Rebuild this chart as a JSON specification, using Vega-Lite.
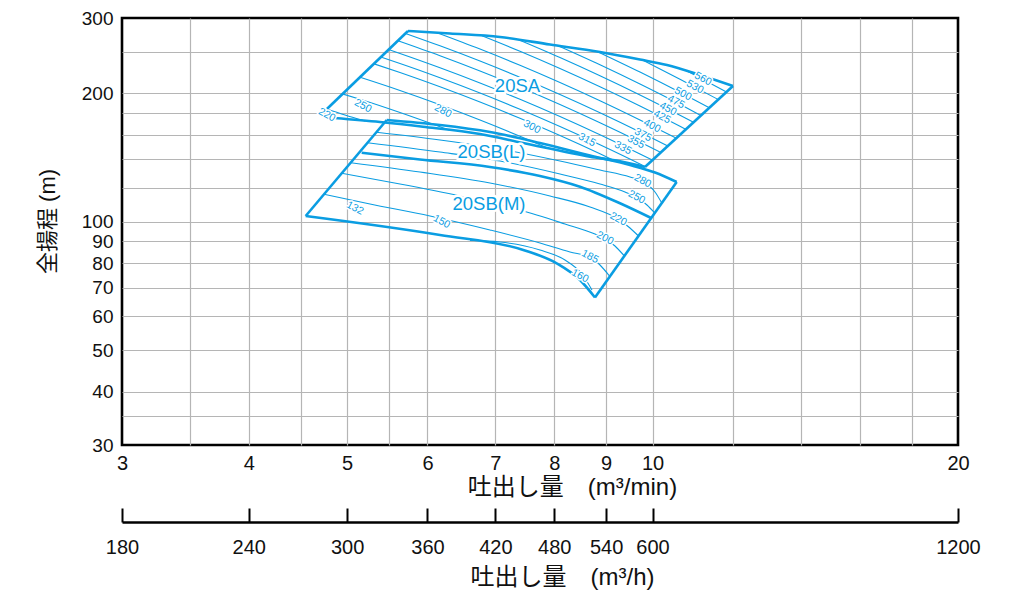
{
  "$schema": "https://vega.github.io/schema/vega-lite/v6.json",
  "width": 836,
  "height": 427,
  "autosize": {"type": "none"},
  "padding": {"left": 122, "top": 18, "right": 59, "bottom": 149},
  "background": "white",
  "config": {
    "view": {"stroke": "#000000", "strokeWidth": 2.6},
    "font": "Liberation Sans, Arial, Noto Sans CJK JP, sans-serif",
    "axis": {
      "labelFont": "Liberation Sans, Arial, Noto Sans CJK JP, sans-serif",
      "titleFont": "Liberation Sans, Noto Sans CJK JP, sans-serif",
      "labelColor": "#111111",
      "titleColor": "#111111",
      "titleFontWeight": "normal"
    }
  },
  "datasets": {
    "edges": [
      {"id": "SA-left", "q": 4.7763, "h": 183.66}, {"id": "SA-left", "q": 5.7408, "h": 279.69},
      {"id": "SA-top", "q": 5.7408, "h": 279.69}, {"id": "SA-top", "q": 6.3149, "h": 275.94}, {"id": "SA-top", "q": 7.0736, "h": 270.78}, {"id": "SA-top", "q": 7.9235, "h": 260.05}, {"id": "SA-top", "q": 8.8755, "h": 249.74}, {"id": "SA-top", "q": 9.7188, "h": 239.85}, {"id": "SA-top", "q": 10.3328, "h": 232.84}, {"id": "SA-top", "q": 11.1363, "h": 220.61}, {"id": "SA-top", "q": 12.0022, "h": 207.91},
      {"id": "SA-right", "q": 12.0022, "h": 207.91}, {"id": "SA-right", "q": 9.8297, "h": 134.33},
      {"id": "SA-bottom", "q": 4.8534, "h": 174.96}, {"id": "SA-bottom", "q": 5.3874, "h": 171.22}, {"id": "SA-bottom", "q": 5.9396, "h": 166.93}, {"id": "SA-bottom", "q": 6.7598, "h": 160.49}, {"id": "SA-bottom", "q": 7.4526, "h": 152.89}, {"id": "SA-bottom", "q": 8.6763, "h": 142.0}, {"id": "SA-bottom", "q": 9.2875, "h": 138.53}, {"id": "SA-bottom", "q": 9.8297, "h": 134.33},
      {"id": "SB-left", "q": 4.5515, "h": 103.13}, {"id": "SB-left", "q": 5.47, "h": 173.08},
      {"id": "SB-top", "q": 5.47, "h": 173.08}, {"id": "SB-top", "q": 6.1732, "h": 168.47}, {"id": "SB-top", "q": 6.9149, "h": 162.23}, {"id": "SB-top", "q": 7.7457, "h": 152.89}, {"id": "SB-top", "q": 8.6763, "h": 142.92}, {"id": "SB-top", "q": 9.5007, "h": 135.79}, {"id": "SB-top", "q": 10.0553, "h": 130.4}, {"id": "SB-top", "q": 10.5628, "h": 123.89},
      {"id": "SB-right", "q": 8.7753, "h": 66.46}, {"id": "SB-right", "q": 10.5628, "h": 123.89},
      {"id": "SB-bottom", "q": 4.5515, "h": 103.13}, {"id": "SB-bottom", "q": 6.1732, "h": 93.09}, {"id": "SB-bottom", "q": 7.4577, "h": 85.86}, {"id": "SB-bottom", "q": 8.0449, "h": 79.92}, {"id": "SB-bottom", "q": 8.4817, "h": 73.03}, {"id": "SB-bottom", "q": 8.7753, "h": 66.46},
      {"id": "SB-mid", "q": 5.1683, "h": 145.1}, {"id": "SB-mid", "q": 5.8993, "h": 139.88}, {"id": "SB-mid", "q": 6.9149, "h": 134.33}, {"id": "SB-mid", "q": 7.7457, "h": 127.97}, {"id": "SB-mid", "q": 8.4817, "h": 120.79}, {"id": "SB-mid", "q": 9.2875, "h": 110.45}, {"id": "SB-mid", "q": 9.9803, "h": 101.87}
    ],
    "curves": [
      {"id": "SA220", "q": 4.7763, "h": 183.66}, {"id": "SA220", "q": 4.9761, "h": 177.81}, {"id": "SA220", "q": 5.2071, "h": 172.15},
      {"id": "SA250", "q": 4.9491, "h": 199.18}, {"id": "SA250", "q": 5.1484, "h": 193.54}, {"id": "SA250", "q": 5.6376, "h": 180.19}, {"id": "SA250", "q": 6.1732, "h": 166.86}, {"id": "SA250", "q": 6.3006, "h": 163.9},
      {"id": "SA280", "q": 5.1484, "h": 217.89}, {"id": "SA280", "q": 5.6376, "h": 202.89}, {"id": "SA280", "q": 6.1732, "h": 187.88}, {"id": "SA280", "q": 6.7598, "h": 173.05}, {"id": "SA280", "q": 7.402, "h": 158.53}, {"id": "SA280", "q": 7.8876, "h": 148.63},
      {"id": "SA300", "q": 5.3134, "h": 234.35}, {"id": "SA300", "q": 5.6376, "h": 223.59}, {"id": "SA300", "q": 6.1732, "h": 207.03}, {"id": "SA300", "q": 6.7598, "h": 190.69}, {"id": "SA300", "q": 7.402, "h": 174.69}, {"id": "SA300", "q": 8.1053, "h": 159.17}, {"id": "SA300", "q": 8.8755, "h": 144.26}, {"id": "SA300", "q": 9.1619, "h": 139.2},
      {"id": "SA315", "q": 5.3972, "h": 242.97}, {"id": "SA315", "q": 5.6376, "h": 234.69}, {"id": "SA315", "q": 6.1732, "h": 217.33}, {"id": "SA315", "q": 6.7598, "h": 200.18}, {"id": "SA315", "q": 7.402, "h": 183.38}, {"id": "SA315", "q": 8.1053, "h": 167.09}, {"id": "SA315", "q": 8.8755, "h": 151.43}, {"id": "SA315", "q": 9.7188, "h": 136.5}, {"id": "SA315", "q": 9.8408, "h": 134.48},
      {"id": "SA335", "q": 5.4936, "h": 253.0}, {"id": "SA335", "q": 5.6376, "h": 247.7}, {"id": "SA335", "q": 6.1732, "h": 229.34}, {"id": "SA335", "q": 6.7598, "h": 211.26}, {"id": "SA335", "q": 7.402, "h": 193.54}, {"id": "SA335", "q": 8.1053, "h": 176.35}, {"id": "SA335", "q": 8.8755, "h": 159.82}, {"id": "SA335", "q": 9.7188, "h": 144.06}, {"id": "SA335", "q": 9.9938, "h": 139.42},
      {"id": "SA355", "q": 5.6108, "h": 265.29}, {"id": "SA355", "q": 6.1732, "h": 244.71}, {"id": "SA355", "q": 6.7598, "h": 225.38}, {"id": "SA355", "q": 7.402, "h": 206.48}, {"id": "SA355", "q": 8.1053, "h": 188.14}, {"id": "SA355", "q": 8.8755, "h": 170.5}, {"id": "SA355", "q": 9.7188, "h": 153.69}, {"id": "SA355", "q": 10.1908, "h": 145.26},
      {"id": "SA375", "q": 5.7084, "h": 276.09}, {"id": "SA375", "q": 6.1732, "h": 258.26}, {"id": "SA375", "q": 6.7598, "h": 237.88}, {"id": "SA375", "q": 7.402, "h": 217.91}, {"id": "SA375", "q": 8.1053, "h": 198.56}, {"id": "SA375", "q": 8.8755, "h": 179.95}, {"id": "SA375", "q": 9.7188, "h": 162.2}, {"id": "SA375", "q": 10.3516, "h": 150.36},
      {"id": "SA400", "q": 6.1313, "h": 277.14}, {"id": "SA400", "q": 6.7598, "h": 253.77}, {"id": "SA400", "q": 7.402, "h": 232.49}, {"id": "SA400", "q": 8.1053, "h": 211.83}, {"id": "SA400", "q": 8.8755, "h": 191.98}, {"id": "SA400", "q": 9.7188, "h": 173.05}, {"id": "SA400", "q": 10.5508, "h": 156.9},
      {"id": "SA425", "q": 6.7905, "h": 272.54}, {"id": "SA425", "q": 7.402, "h": 250.71}, {"id": "SA425", "q": 8.1053, "h": 228.44}, {"id": "SA425", "q": 8.8755, "h": 207.03}, {"id": "SA425", "q": 9.7188, "h": 186.62}, {"id": "SA425", "q": 10.6422, "h": 167.31}, {"id": "SA425", "q": 10.7881, "h": 164.52},
      {"id": "SA450", "q": 7.3852, "h": 266.58}, {"id": "SA450", "q": 8.1053, "h": 242.41}, {"id": "SA450", "q": 8.8755, "h": 219.68}, {"id": "SA450", "q": 9.7188, "h": 198.03}, {"id": "SA450", "q": 10.6422, "h": 177.54}, {"id": "SA450", "q": 10.9733, "h": 170.95},
      {"id": "SA475", "q": 8.0686, "h": 258.37}, {"id": "SA475", "q": 8.8755, "h": 233.12}, {"id": "SA475", "q": 9.7188, "h": 210.13}, {"id": "SA475", "q": 10.6422, "h": 188.39}, {"id": "SA475", "q": 11.1616, "h": 177.33},
      {"id": "SA500", "q": 8.8273, "h": 250.21}, {"id": "SA500", "q": 9.7188, "h": 224.17}, {"id": "SA500", "q": 10.6422, "h": 200.98}, {"id": "SA500", "q": 11.3738, "h": 184.85},
      {"id": "SA530", "q": 9.7696, "h": 239.2}, {"id": "SA530", "q": 10.6422, "h": 215.58}, {"id": "SA530", "q": 11.6059, "h": 193.31},
      {"id": "SA560", "q": 10.8372, "h": 224.94}, {"id": "SA560", "q": 11.6534, "h": 205.09}, {"id": "SA560", "q": 11.8265, "h": 201.29},
      {"id": "SBL-A", "q": 5.3448, "h": 161.97}, {"id": "SBL-A", "q": 6.1732, "h": 155.38}, {"id": "SBL-A", "q": 7.0736, "h": 148.03}, {"id": "SBL-A", "q": 8.1053, "h": 138.75}, {"id": "SBL-A", "q": 8.8755, "h": 132.17}, {"id": "SBL-A", "q": 9.5007, "h": 127.28}, {"id": "SBL-A", "q": 9.7852, "h": 124.22}, {"id": "SBL-A", "q": 10.0553, "h": 117.39}, {"id": "SBL-A", "q": 10.2116, "h": 110.63},
      {"id": "SBL-B", "q": 5.2368, "h": 153.13}, {"id": "SBL-B", "q": 6.1732, "h": 145.65}, {"id": "SBL-B", "q": 7.0736, "h": 138.75}, {"id": "SBL-B", "q": 8.1053, "h": 129.36}, {"id": "SBL-B", "q": 8.8755, "h": 122.56}, {"id": "SBL-B", "q": 9.3935, "h": 117.39}, {"id": "SBL-B", "q": 9.6528, "h": 113.95}, {"id": "SBL-B", "q": 9.8744, "h": 109.44}, {"id": "SBL-B", "q": 10.0507, "h": 104.81},
      {"id": "SBM-1", "q": 5.0409, "h": 137.48}, {"id": "SBM-1", "q": 5.8993, "h": 130.75}, {"id": "SBM-1", "q": 6.9149, "h": 123.22}, {"id": "SBM-1", "q": 7.9235, "h": 114.88}, {"id": "SBM-1", "q": 8.6763, "h": 108.27}, {"id": "SBM-1", "q": 9.2455, "h": 101.49}, {"id": "SBM-1", "q": 9.5007, "h": 96.68}, {"id": "SBM-1", "q": 9.6858, "h": 92.59},
      {"id": "SBM-2", "q": 4.939, "h": 129.84}, {"id": "SBM-2", "q": 5.6376, "h": 122.56}, {"id": "SBM-2", "q": 6.4598, "h": 114.88}, {"id": "SBM-2", "q": 7.402, "h": 106.53}, {"id": "SBM-2", "q": 8.1978, "h": 98.78}, {"id": "SBM-2", "q": 8.7753, "h": 93.59}, {"id": "SBM-2", "q": 8.9768, "h": 91.36}, {"id": "SBM-2", "q": 9.1828, "h": 87.74}, {"id": "SBM-2", "q": 9.3807, "h": 83.13},
      {"id": "SBM-3", "q": 4.7445, "h": 115.94}, {"id": "SBM-3", "q": 5.2666, "h": 110.03}, {"id": "SBM-3", "q": 6.0347, "h": 103.13}, {"id": "SBM-3", "q": 6.9149, "h": 95.64}, {"id": "SBM-3", "q": 7.7457, "h": 89.17}, {"id": "SBM-3", "q": 8.2914, "h": 84.94}, {"id": "SBM-3", "q": 8.6763, "h": 82.68}, {"id": "SBM-3", "q": 8.8755, "h": 79.19}, {"id": "SBM-3", "q": 9.0771, "h": 74.43},
      {"id": "SBM-4", "q": 6.6081, "h": 90.42}, {"id": "SBM-4", "q": 7.0736, "h": 89.65}, {"id": "SBM-4", "q": 7.7457, "h": 85.86}, {"id": "SBM-4", "q": 8.1978, "h": 81.35}, {"id": "SBM-4", "q": 8.5202, "h": 75.44}, {"id": "SBM-4", "q": 8.7158, "h": 69.2}
    ],
    "kw": [
      {"t": "220", "q": 4.7763, "h": 177.81}, {"t": "250", "q": 5.1835, "h": 186.65}, {"t": "280", "q": 6.2154, "h": 181.69}, {"t": "300", "q": 7.6064, "h": 166.66}, {"t": "315", "q": 8.6175, "h": 155.38}, {"t": "335", "q": 9.351, "h": 148.83}, {"t": "355", "q": 9.631, "h": 153.71}, {"t": "375", "q": 9.7852, "h": 159.63}, {"t": "400", "q": 9.987, "h": 167.56}, {"t": "425", "q": 10.2163, "h": 175.9}, {"t": "450", "q": 10.3563, "h": 183.66}, {"t": "475", "q": 10.546, "h": 190.72}, {"t": "500", "q": 10.7149, "h": 199.13}, {"t": "530", "q": 11.0107, "h": 206.79}, {"t": "560", "q": 11.2124, "h": 215.9},
      {"t": "280", "q": 9.7785, "h": 124.56}, {"t": "250", "q": 9.6463, "h": 114.08}, {"t": "220", "q": 9.2518, "h": 101.32}, {"t": "200", "q": 8.9768, "h": 91.45}, {"t": "185", "q": 8.6763, "h": 82.82}, {"t": "160", "q": 8.4817, "h": 74.63}, {"t": "132", "q": 5.0903, "h": 107.51}, {"t": "150", "q": 6.1971, "h": 100.02}
    ],
    "names": [
      {"t": "20SA", "q": 7.3602, "h": 207.35},
      {"t": "20SB(L)", "q": 6.9385, "h": 145.26},
      {"t": "20SB(M)", "q": 6.8992, "h": 110.03}
    ],
    "perhour": [{"qh": 180}, {"qh": 1200}]
  },
  "layer": [
    {
      "layer": [
        {
          "data": {"name": "edges"},
          "mark": {"type": "line", "color": "#0a9de2", "strokeWidth": 2.6, "interpolate": "monotone"},
          "encoding": {
            "x": {
              "field": "q", "type": "quantitative",
              "scale": {"type": "log", "domain": [3, 20], "nice": false},
              "axis": {
                "values": [3, 3.5, 4, 4.5, 5, 5.5, 6, 7, 8, 9, 10, 12, 14, 16, 18, 20],
                "format": "~g",
                "labelExpr": "indexof([3,4,5,6,7,8,9,10,20], datum.value) >= 0 ? datum.label : ''",
                "grid": true, "gridColor": "#b5b5b5", "gridWidth": 1.2,
                "gridOpacity": {"condition": {"test": "datum.value == 3 || datum.value == 20", "value": 0}, "value": 1},
                "domain": false, "ticks": false,
                "labelFontSize": 20, "labelPadding": 8, "labelFlush": false, "labelOverlap": false, "labelBound": false,
                "title": "吐出し量　(m³/min)", "titleFontSize": 24, "titleX": 450, "titleY": 42,
                "titleBaseline": "middle", "titleAlign": "center"
              }
            },
            "y": {
              "field": "h", "type": "quantitative",
              "scale": {"type": "log", "domain": [30, 300], "nice": false},
              "axis": {
                "values": [30, 35, 40, 50, 60, 70, 80, 90, 100, 120, 140, 160, 180, 200, 250, 300],
                "format": "~g",
                "labelExpr": "indexof([30,40,50,60,70,80,90,100,200,300], datum.value) >= 0 ? datum.label : ''",
                "grid": true, "gridColor": "#b5b5b5", "gridWidth": 1.2,
                "gridOpacity": {"condition": {"test": "datum.value == 30 || datum.value == 300", "value": 0}, "value": 1},
                "domain": false, "ticks": false,
                "labelFontSize": 19, "labelPadding": 9, "labelFlush": false, "labelOverlap": false, "labelBound": false,
                "title": "全揚程 (m)", "titleFontSize": 22, "titleX": -75, "titleY": 203, "titleAngle": -90,
                "titleBaseline": "middle", "titleAlign": "center"
              }
            },
            "detail": {"field": "id", "type": "nominal"}
          }
        },
        {
          "data": {"name": "curves"},
          "mark": {"type": "line", "color": "#0a9de2", "strokeWidth": 1.1, "interpolate": "monotone"},
          "encoding": {
            "x": {"field": "q", "type": "quantitative"},
            "y": {"field": "h", "type": "quantitative"},
            "detail": {"field": "id", "type": "nominal"}
          }
        },
        {
          "data": {"name": "kw"},
          "mark": {"type": "text", "fontSize": 10.5, "angle": 28, "fill": "white", "stroke": "white", "strokeWidth": 3, "strokeJoin": "round", "font": "Liberation Sans, Arial, sans-serif"},
          "encoding": {
            "x": {"field": "q", "type": "quantitative"},
            "y": {"field": "h", "type": "quantitative"},
            "text": {"field": "t", "type": "nominal"}
          }
        },
        {
          "data": {"name": "kw"},
          "mark": {"type": "text", "fontSize": 10.5, "angle": 28, "color": "#0a9de2", "font": "Liberation Sans, Arial, sans-serif"},
          "encoding": {
            "x": {"field": "q", "type": "quantitative"},
            "y": {"field": "h", "type": "quantitative"},
            "text": {"field": "t", "type": "nominal"}
          }
        },
        {
          "data": {"name": "names"},
          "mark": {"type": "text", "fontSize": 18.5, "fill": "white", "stroke": "white", "strokeWidth": 5, "strokeJoin": "round", "font": "Liberation Sans, Arial, sans-serif"},
          "encoding": {
            "x": {"field": "q", "type": "quantitative"},
            "y": {"field": "h", "type": "quantitative"},
            "text": {"field": "t", "type": "nominal"}
          }
        },
        {
          "data": {"name": "names"},
          "mark": {"type": "text", "fontSize": 18.5, "color": "#0a9de2", "font": "Liberation Sans, Arial, sans-serif"},
          "encoding": {
            "x": {"field": "q", "type": "quantitative"},
            "y": {"field": "h", "type": "quantitative"},
            "text": {"field": "t", "type": "nominal"}
          }
        }
      ]
    },
    {
      "data": {"name": "perhour"},
      "mark": {"type": "point", "opacity": 0},
      "encoding": {
        "x": {
          "field": "qh", "type": "quantitative",
          "scale": {"type": "log", "domain": [180, 1200], "nice": false},
          "axis": {
            "orient": "bottom", "offset": 77,
            "values": [180, 240, 300, 360, 420, 480, 540, 600, 1200],
            "format": "~g",
            "grid": false,
            "domain": true, "domainColor": "#000000", "domainWidth": 2.5,
            "ticks": true, "tickColor": "#000000", "tickWidth": 2, "tickSize": -14,
            "labelFontSize": 20, "labelPadding": 29, "labelFlush": false, "labelOverlap": false, "labelBound": false,
            "title": "吐出し量　(m³/h)", "titleFontSize": 24, "titleX": 440, "titleY": 55,
            "titleBaseline": "middle", "titleAlign": "center"
          }
        }
      }
    }
  ],
  "resolve": {"scale": {"x": "independent"}}
}
